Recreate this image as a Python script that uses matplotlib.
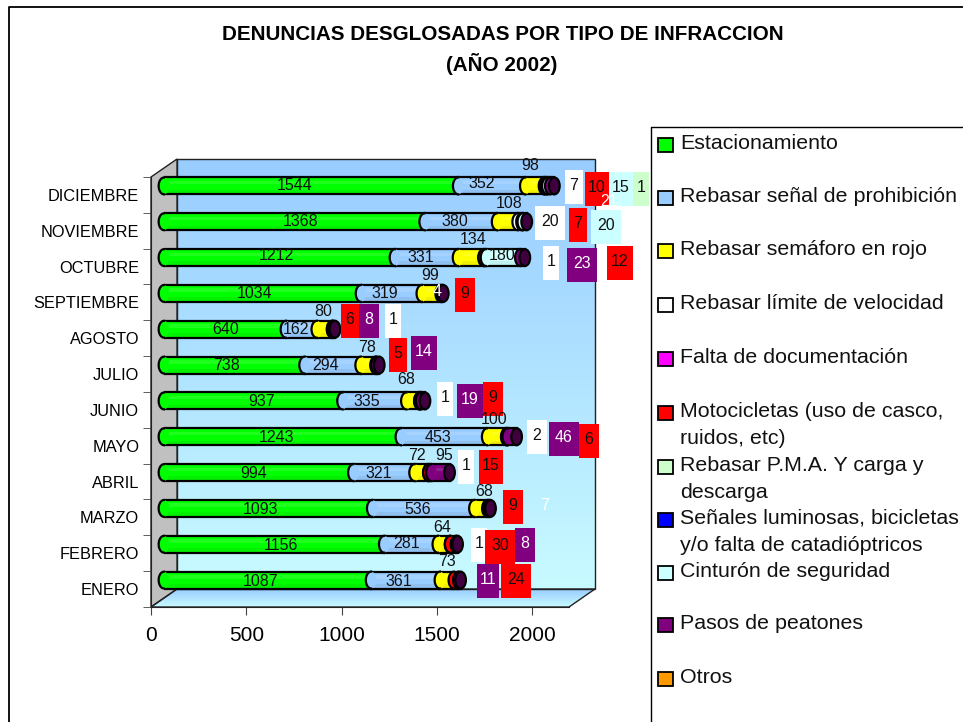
import numpy as np
import matplotlib
matplotlib.use("Agg")
import matplotlib.pyplot as plt
from matplotlib.colors import LinearSegmentedColormap
from matplotlib.patches import Ellipse, Polygon, Rectangle

plt.rcParams['font.family'] = ['Liberation Sans', 'DejaVu Sans']

W, H = 963, 722

months = ['ENERO', 'FEBRERO', 'MARZO', 'ABRIL', 'MAYO', 'JUNIO', 'JULIO', 'AGOSTO',
          'SEPTIEMBRE', 'OCTUBRE', 'NOVIEMBRE', 'DICIEMBRE']

estacionamiento = [1087, 1156, 1093, 994, 1243, 937, 738, 640, 1034, 1212, 1368, 1544]
senal = [361, 281, 536, 321, 453, 335, 294, 162, 319, 331, 380, 352]
semaforo = [73, 64, 68, 72, 100, 68, 78, 80, 99, 134, 108, 98]
velocidad = [0, 1, 0, 1, 2, 1, 0, 1, 0, 1, 20, 7]
documentacion = [0, 0, 0, 0, 0, 0, 0, 0, 0, 0, 0, 0]
motocicletas = [24, 30, 9, 15, 6, 9, 5, 6, 9, 12, 7, 10]
pma = [0, 0, 0, 0, 0, 0, 0, 0, 0, 0, 0, 1]
luminosas = [0, 0, 0, 0, 0, 0, 0, 0, 0, 0, 0, 0]
cinturon = [0, 0, 0, 0, 0, 0, 0, 0, 0, 180, 20, 15]
pasos = [11, 8, 7, 95, 46, 19, 14, 8, 4, 23, 0, 21]
otros = [0, 0, 0, 0, 0, 0, 0, 0, 0, 0, 0, 0]

series = [estacionamiento, senal, semaforo, velocidad, documentacion, motocicletas,
          pma, luminosas, cinturon, pasos, otros]
colors = ['#00FF00', '#99CCFF', '#FFFF00', '#FFFFFF', '#FF00FF', '#FF0000',
          '#CCFFCC', '#0000FF', '#CCFFFF', '#800080', '#FF9900']
legend_labels = ['Estacionamiento', 'Rebasar señal de prohibición', 'Rebasar semáforo en rojo',
                 'Rebasar límite de velocidad', 'Falta de documentación',
                 'Motocicletas (uso de casco,\nruidos, etc)', 'Rebasar P.M.A. Y carga y\ndescarga',
                 'Señales luminosas, bicicletas\ny/o falta de catadióptricos',
                 'Cinturón de seguridad', 'Pasos de peatones', 'Otros']
legend_y = [143, 196, 249, 303, 357, 411, 465, 518, 571, 623, 677]

# where the labels sit in the picture: month, series, x, y (pixels)
plain_labels = [
    (11, 0, 295, 185), (11, 1, 482, 184), (11, 2, 530, 165),
    (10, 0, 301, 221), (10, 1, 455, 221), (10, 2, 509, 203),
    (9, 0, 276, 255), (9, 1, 421, 257), (9, 2, 473, 239), (9, 8, 502, 255),
    (8, 0, 255, 293), (8, 1, 385, 293), (8, 2, 430, 275),
    (7, 0, 226, 329), (7, 1, 296, 329), (7, 2, 323, 311),
    (6, 0, 226, 365), (6, 1, 326, 365), (6, 2, 367, 348),
    (5, 0, 262, 401), (5, 1, 367, 402), (5, 2, 406, 380),
    (4, 0, 276, 437), (4, 1, 438, 437), (4, 2, 494, 420),
    (3, 0, 254, 473), (3, 1, 379, 473), (3, 2, 417, 455), (3, 9, 444, 455),
    (2, 0, 260, 509), (2, 1, 418, 509), (2, 2, 484, 492),
    (1, 0, 281, 545), (1, 1, 407, 543), (1, 2, 442, 527),
    (0, 0, 261, 581), (0, 1, 399, 582), (0, 2, 447, 562),
]
white_labels = [(11, 9, 609, 201), (8, 9, 437, 292), (2, 9, 545, 506)]
# boxed labels: month, series, left, right, top (pixels)
boxed_labels = [
    (11, 3, 565, 583, 170), (11, 5, 585, 609, 172), (11, 8, 609, 633, 172), (11, 6, 633, 649, 172),
    (10, 3, 535, 565, 206), (10, 5, 569, 587, 208), (10, 8, 591, 621, 210),
    (9, 3, 543, 559, 246), (9, 9, 567, 597, 248), (9, 5, 607, 633, 246),
    (8, 5, 455, 475, 278),
    (7, 5, 341, 359, 304), (7, 9, 359, 379, 304), (7, 3, 385, 401, 304),
    (6, 5, 389, 407, 338), (6, 9, 411, 437, 336),
    (5, 3, 437, 453, 382), (5, 9, 457, 483, 384), (5, 5, 483, 503, 382),
    (4, 3, 527, 547, 420), (4, 9, 549, 579, 422), (4, 5, 579, 599, 424),
    (3, 3, 458, 474, 450), (3, 5, 479, 503, 450),
    (2, 5, 503, 523, 490),
    (1, 3, 471, 487, 528), (1, 5, 485, 515, 530), (1, 9, 515, 535, 528),
    (0, 9, 477, 499, 564), (0, 5, 501, 531, 564),
]


def px_axes(x0, y0, x1, y1, **kw):
    return fig.add_axes([x0 / W, 1 - y1 / H, (x1 - x0) / W, (y1 - y0) / H], **kw)


fig = plt.figure(figsize=(W / 100, H / 100), dpi=100)

# background in pixel coordinates: frame, walls, floor
bg = px_axes(0, 0, W, H, zorder=0)
bg.set_xlim(0, W)
bg.set_ylim(H, 0)
bg.axis('off')
bg.plot([W, 9, 9], [7, 7, H], color='black', lw=1.3)
wall_cmap = LinearSegmentedColormap.from_list('wall', ['#99CCFF', '#C8FBFF'])
bg.imshow(np.linspace(0, 1, 256)[:, None], cmap=wall_cmap, extent=(177, 595, 589, 159), aspect='auto', zorder=1)
bg.add_patch(Rectangle((177, 159), 418, 430, fc='none', ec='#222222', lw=1, zorder=2))
bg.add_patch(Polygon([(151, 177), (177, 159), (177, 589), (151, 607)], fc='#C0C0C0', ec='#222222', lw=1, zorder=2))
floor = Polygon([(151, 607), (177, 589), (595, 589), (569, 607)], fc='none', ec='#222222', lw=1, zorder=3)
bg.add_patch(floor)
floor_img = bg.imshow(np.linspace(0, 1, 64)[:, None], cmap=wall_cmap, extent=(151, 595, 607, 589), aspect='auto', zorder=1)
floor_img.set_clip_path(floor)
bg.set_xlim(0, W)
bg.set_ylim(H, 0)

# front frame with the scales
ax = px_axes(151, 177, 569, 607, zorder=1)
ax.patch.set_alpha(0)
xmax = 418 / 0.1906
ax.set_xlim(0, xmax)
ax.set_ylim(-0.5, 11.5)
for s in ['top', 'right']:
    ax.spines[s].set_visible(False)
for s in ['left', 'bottom']:
    ax.spines[s].set_color('#222222')
ax.set_xticks([0, 500, 1000, 1500, 2000])
ax.tick_params(axis='x', length=6, color='#444444', labelsize=15, pad=7.5)
ax.set_yticks(range(12))
ax.set_yticklabels(months)
ax.tick_params(axis='y', length=0, labelsize=11.8, pad=8.5)
ax.set_yticks(np.arange(-0.5, 12), minor=True)
ax.tick_params(axis='y', which='minor', length=6, color='#444444')

# bars sit half way into the depth of the box
bars = px_axes(164, 168, 582, 598, zorder=2)
bars.patch.set_alpha(0)
bars.axis('off')
bars.set_xlim(0, xmax)
bars.set_ylim(-0.5, 11.5)

bar_h = 0.47
cap_w = 56
arc = np.linspace(np.pi / 2, 3 * np.pi / 2, 40)
z = 3
for i in range(len(months)):
    left = 0
    for vals, col in zip(series, colors):
        v = vals[i]
        if v == 0:
            continue
        bars.barh(i, v, left=left, height=bar_h, color=col, edgecolor='black', lw=1.6, zorder=z)
        bars.barh(i + 0.09, v, left=left, height=0.1, color='white', alpha=0.12, lw=0, zorder=z + 0.1)
        bars.barh(i - 0.17, v, left=left, height=0.13, color='black', alpha=0.06, lw=0, zorder=z + 0.1)
        bars.add_patch(Ellipse((left, i), cap_w, bar_h, fc=col, ec='none', zorder=z + 0.2, clip_on=False))
        bars.plot(left + cap_w / 2 * np.cos(arc), i + bar_h / 2 * np.sin(arc), color='black', lw=1.6, zorder=z + 0.3, clip_on=False)
        left += v
        z += 1
    bars.add_patch(Ellipse((left, i), cap_w, bar_h, fc='#400040', ec='black', lw=1.6, zorder=z, clip_on=False))
    z += 1

# overlay in pixel coordinates: labels, title, legend
top = px_axes(0, 0, W, H, zorder=5)
top.patch.set_alpha(0)
top.axis('off')
top.set_xlim(0, W)
top.set_ylim(H, 0)

label_size = 11.5
for m, s, x, y in plain_labels:
    top.text(x, y, str(series[s][m]), fontsize=label_size, ha='center', va='center', color='#111111')
for m, s, x0, x1, y0 in boxed_labels:
    top.add_patch(Rectangle((x0, y0), x1 - x0, 34, fc=colors[s], ec='none', zorder=2))
    txt = 'white' if s == 9 else '#111111'
    top.text((x0 + x1) / 2, y0 + 15, str(series[s][m]), fontsize=label_size, ha='center', va='center', color=txt, zorder=3)
# the white labels stay above the boxes
for m, s, x, y in white_labels:
    top.text(x, y, str(series[s][m]), fontsize=label_size, ha='center', va='center', color='white', zorder=4)

top.text(503, 34, 'DENUNCIAS DESGLOSADAS POR TIPO DE INFRACCION', fontsize=14.9, fontweight='bold', ha='center', va='center')
top.text(502, 64, '(AÑO 2002)', fontsize=14.9, fontweight='bold', ha='center', va='center')

top.plot([W, 651, 651], [127, 127, H], color='black', lw=1)
for lab, col, y in zip(legend_labels, colors, legend_y):
    top.add_patch(Rectangle((658, y - 5), 15, 14, fc=col, ec='black', lw=1.3))
    top.text(680, y - 9, lab, fontsize=15.4, ha='left', va='top', linespacing=1.55, color='#111111')

fig.savefig('out.png', dpi=100)
